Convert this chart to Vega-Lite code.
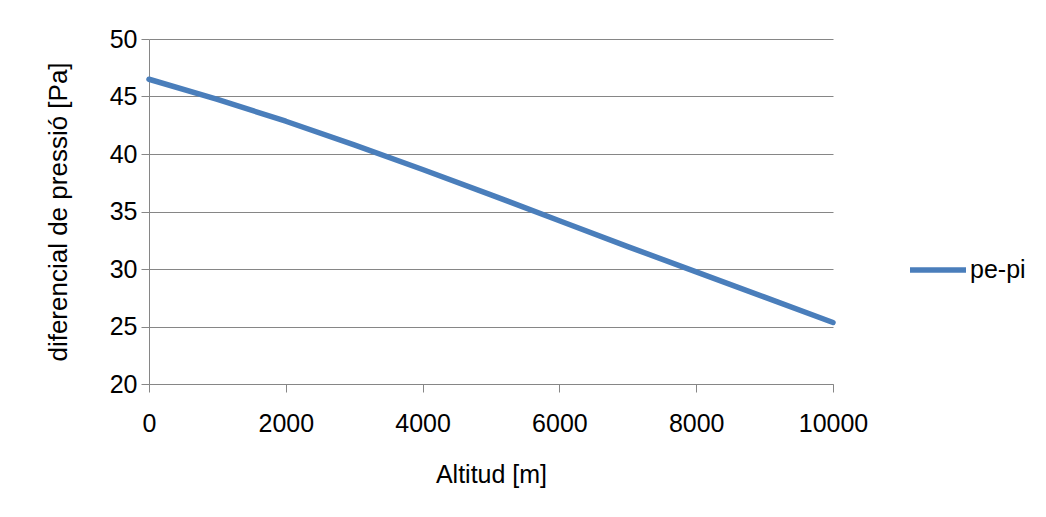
{
  "$schema": "https://vega.github.io/schema/vega-lite/v6.json",
  "width": 684,
  "height": 345,
  "autosize": {"type": "none"},
  "padding": {"left": 149, "top": 39, "right": 213, "bottom": 133},
  "background": "white",
  "config": {
    "font": "Liberation Sans",
    "view": {"stroke": null},
    "axis": {
      "labelFont": "Liberation Sans",
      "titleFont": "Liberation Sans",
      "labelFontSize": 25,
      "titleFontSize": 25,
      "labelColor": "black",
      "titleColor": "black",
      "titleFontWeight": "normal",
      "domainColor": "#868686",
      "tickColor": "#868686",
      "gridColor": "#868686",
      "gridOpacity": 1,
      "tickSize": 8
    }
  },
  "data": {
    "values": [
      {"alt": 0, "dp": 46.5, "s": "pe-pi"},
      {"alt": 1000, "dp": 44.75, "s": "pe-pi"},
      {"alt": 2000, "dp": 42.85, "s": "pe-pi"},
      {"alt": 3000, "dp": 40.8, "s": "pe-pi"},
      {"alt": 4000, "dp": 38.65, "s": "pe-pi"},
      {"alt": 5000, "dp": 36.45, "s": "pe-pi"},
      {"alt": 6000, "dp": 34.2, "s": "pe-pi"},
      {"alt": 7000, "dp": 31.95, "s": "pe-pi"},
      {"alt": 8000, "dp": 29.75, "s": "pe-pi"},
      {"alt": 9000, "dp": 27.55, "s": "pe-pi"},
      {"alt": 10000, "dp": 25.35, "s": "pe-pi"}
    ]
  },
  "mark": {"type": "line", "strokeWidth": 5.5, "strokeCap": "round", "strokeJoin": "round"},
  "encoding": {
    "x": {
      "field": "alt",
      "type": "quantitative",
      "scale": {"domain": [0, 10000], "nice": false, "zero": false},
      "axis": {
        "title": "Altitud [m]",
        "values": [0, 2000, 4000, 6000, 8000, 10000],
        "format": "d",
        "grid": false,
        "labelPadding": 19,
        "titlePadding": 26,
        "labelFlush": false,
        "labelOverlap": false
      }
    },
    "y": {
      "field": "dp",
      "type": "quantitative",
      "scale": {"domain": [20, 50], "nice": false, "zero": false},
      "axis": {
        "title": "diferencial de pressió [Pa]",
        "values": [20, 25, 30, 35, 40, 45, 50],
        "grid": true,
        "labelPadding": 4,
        "titlePadding": 38,
        "titleFontSize": 26
      }
    },
    "color": {
      "field": "s",
      "type": "nominal",
      "scale": {"range": ["#4a7ebb"]},
      "legend": {
        "title": null,
        "orient": "none",
        "legendX": 758,
        "legendY": 200,
        "symbolType": "stroke",
        "symbolSize": 3136,
        "symbolStrokeWidth": 5.5,
        "labelFont": "Liberation Sans",
        "labelFontSize": 25,
        "labelColor": "black",
        "labelOffset": 1
      }
    }
  }
}
